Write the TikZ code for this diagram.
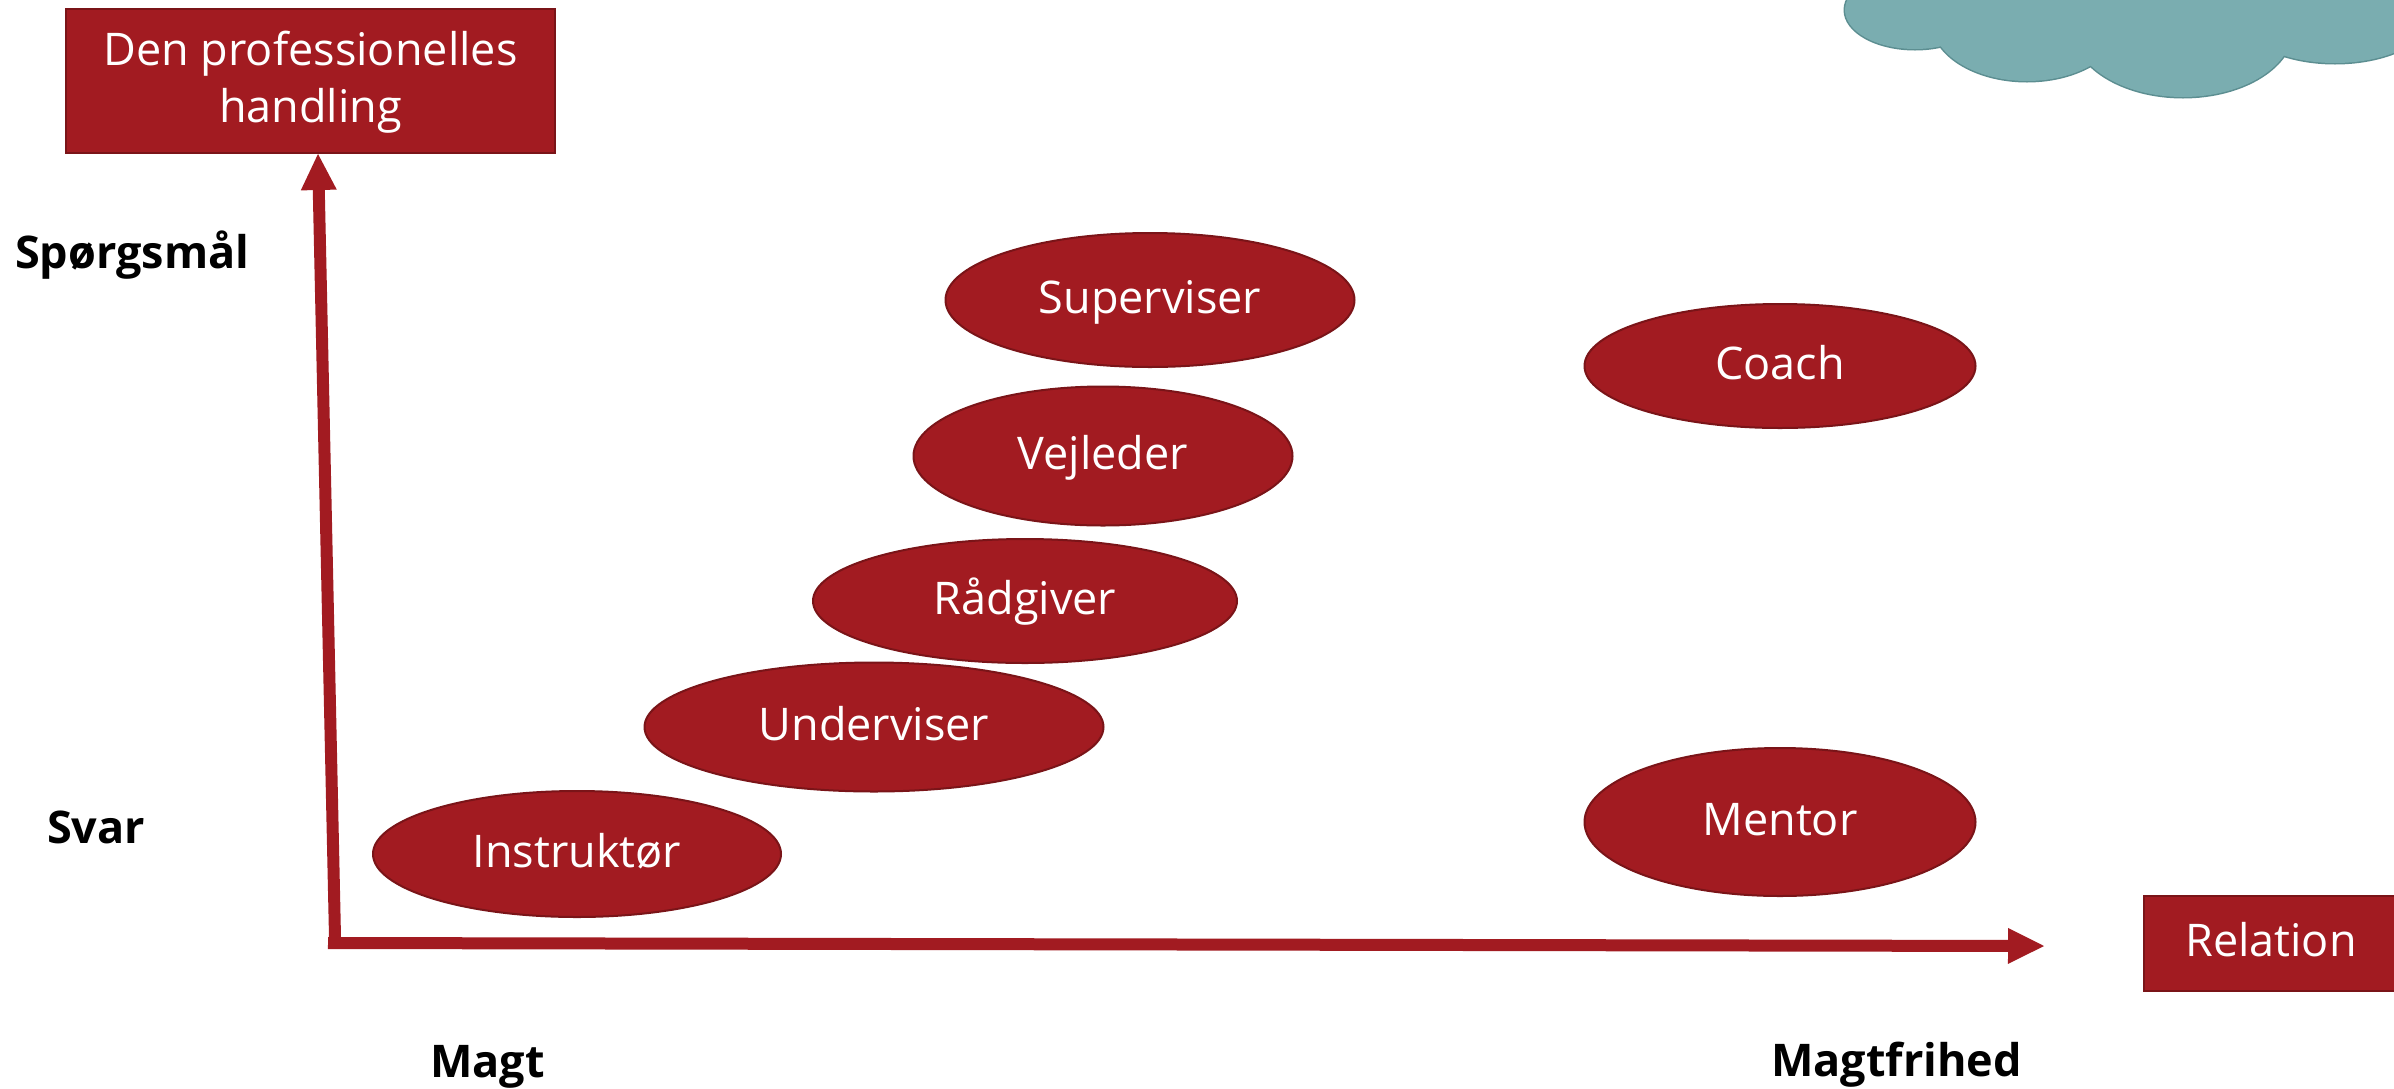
\documentclass[tikz,border=0pt]{standalone}
\usepackage{fontspec}
\setmainfont{Open Sans}
\usetikzlibrary{shapes.geometric,arrows.meta}
\definecolor{myred}{RGB}{162,27,33}
\definecolor{myredd}{RGB}{122,20,24}
\definecolor{cloudfill}{RGB}{122,173,176}
\definecolor{cloudline}{RGB}{92,142,145}
\newcommand\rolefnt{\fontsize{45}{57}\selectfont}
\newcommand\labfnt{\fontsize{45}{57}\selectfont\bfseries}
\tikzset{
  role/.style={ellipse, fill=myred, draw=myredd, line width=2pt, text=white,
    font=\rolefnt, inner sep=0pt, text height=26pt, text depth=0pt},
  rbox/.style={rectangle, fill=myred, draw=myredd, line width=2pt, text=white,
    font=\rolefnt, inner sep=0pt},
  axlab/.style={font=\labfnt, anchor=base west, inner sep=0pt, text=black},
  axis/.style={draw=myred, line width=12pt,
    -{Triangle[width=36pt,length=36pt,line width=0pt]}},
  cloudedge/.style={draw=cloudline, line width=3pt},
  cloudbody/.style={fill=cloudfill}
}
\begin{document}
\begin{tikzpicture}[x=1pt,y=-1pt]
\useasboundingbox (0,0) rectangle (2394,1088);
\clip (0,0) rectangle (2394,1088);
\fill[white] (0,0) rectangle (2394,1088);

% cloud
\path[cloudedge] (1915,10) ellipse [x radius=70, y radius=39];
\path[cloudedge] (2027,21) ellipse [x radius=95, y radius=60];
\path[cloudedge] (2183,28) ellipse [x radius=110, y radius=69];
\path[cloudedge] (2335,10) ellipse [x radius=100, y radius=53];
\path[cloudbody] (1915,10) ellipse [x radius=70, y radius=39];
\path[cloudbody] (2027,21) ellipse [x radius=95, y radius=60];
\path[cloudbody] (2183,28) ellipse [x radius=110, y radius=69];
\path[cloudbody] (2335,10) ellipse [x radius=100, y radius=53];

% boxes
\node[rbox, minimum width=489pt, minimum height=144pt, align=center,
  text height=82pt, text depth=0pt] (pro) at (310.5,81)
  {Den professionelles\\handling};
\node[rbox, minimum width=254pt, minimum height=95pt, text height=26pt,
  text depth=0pt] (rel) at (2271,943.5) {Relation};

% ellipses
\node[role, minimum width=409pt, minimum height=134pt] (sup) at (1150,300) {Superviser};
\node[role, minimum width=379pt, minimum height=139pt] (vej) at (1103,456) {Vejleder};
\node[role, minimum width=424pt, minimum height=124pt] (rad) at (1025,601) {Rådgiver};
\node[role, minimum width=459pt, minimum height=129pt] (und) at (874,727) {Underviser};
\node[role, minimum width=408pt, minimum height=126pt] (ins) at (577,854) {Instruktør};
\node[role, minimum width=391pt, minimum height=124pt] (coa) at (1780,366) {Coach};
\node[role, minimum width=391pt, minimum height=148pt] (men) at (1780,822) {Mentor};

% axes
\coordinate (vbot) at (335,937);
\coordinate (vtop) at (318,154);
\coordinate (hleft) at (328,943);
\coordinate (hright) at (2044,946);
\draw[axis] (vbot) -- (vtop);
\draw[axis] (hleft) -- (hright);

% labels
\node[axlab] (qs) at (15,268) {Spørgsmål};
\node[axlab] (sv) at (47,843) {Svar};
\node[axlab] (mg) at (430,1077) {Magt};
\node[axlab] (mf) at (1771,1076) {Magtfrihed};
\end{tikzpicture}
\end{document}
